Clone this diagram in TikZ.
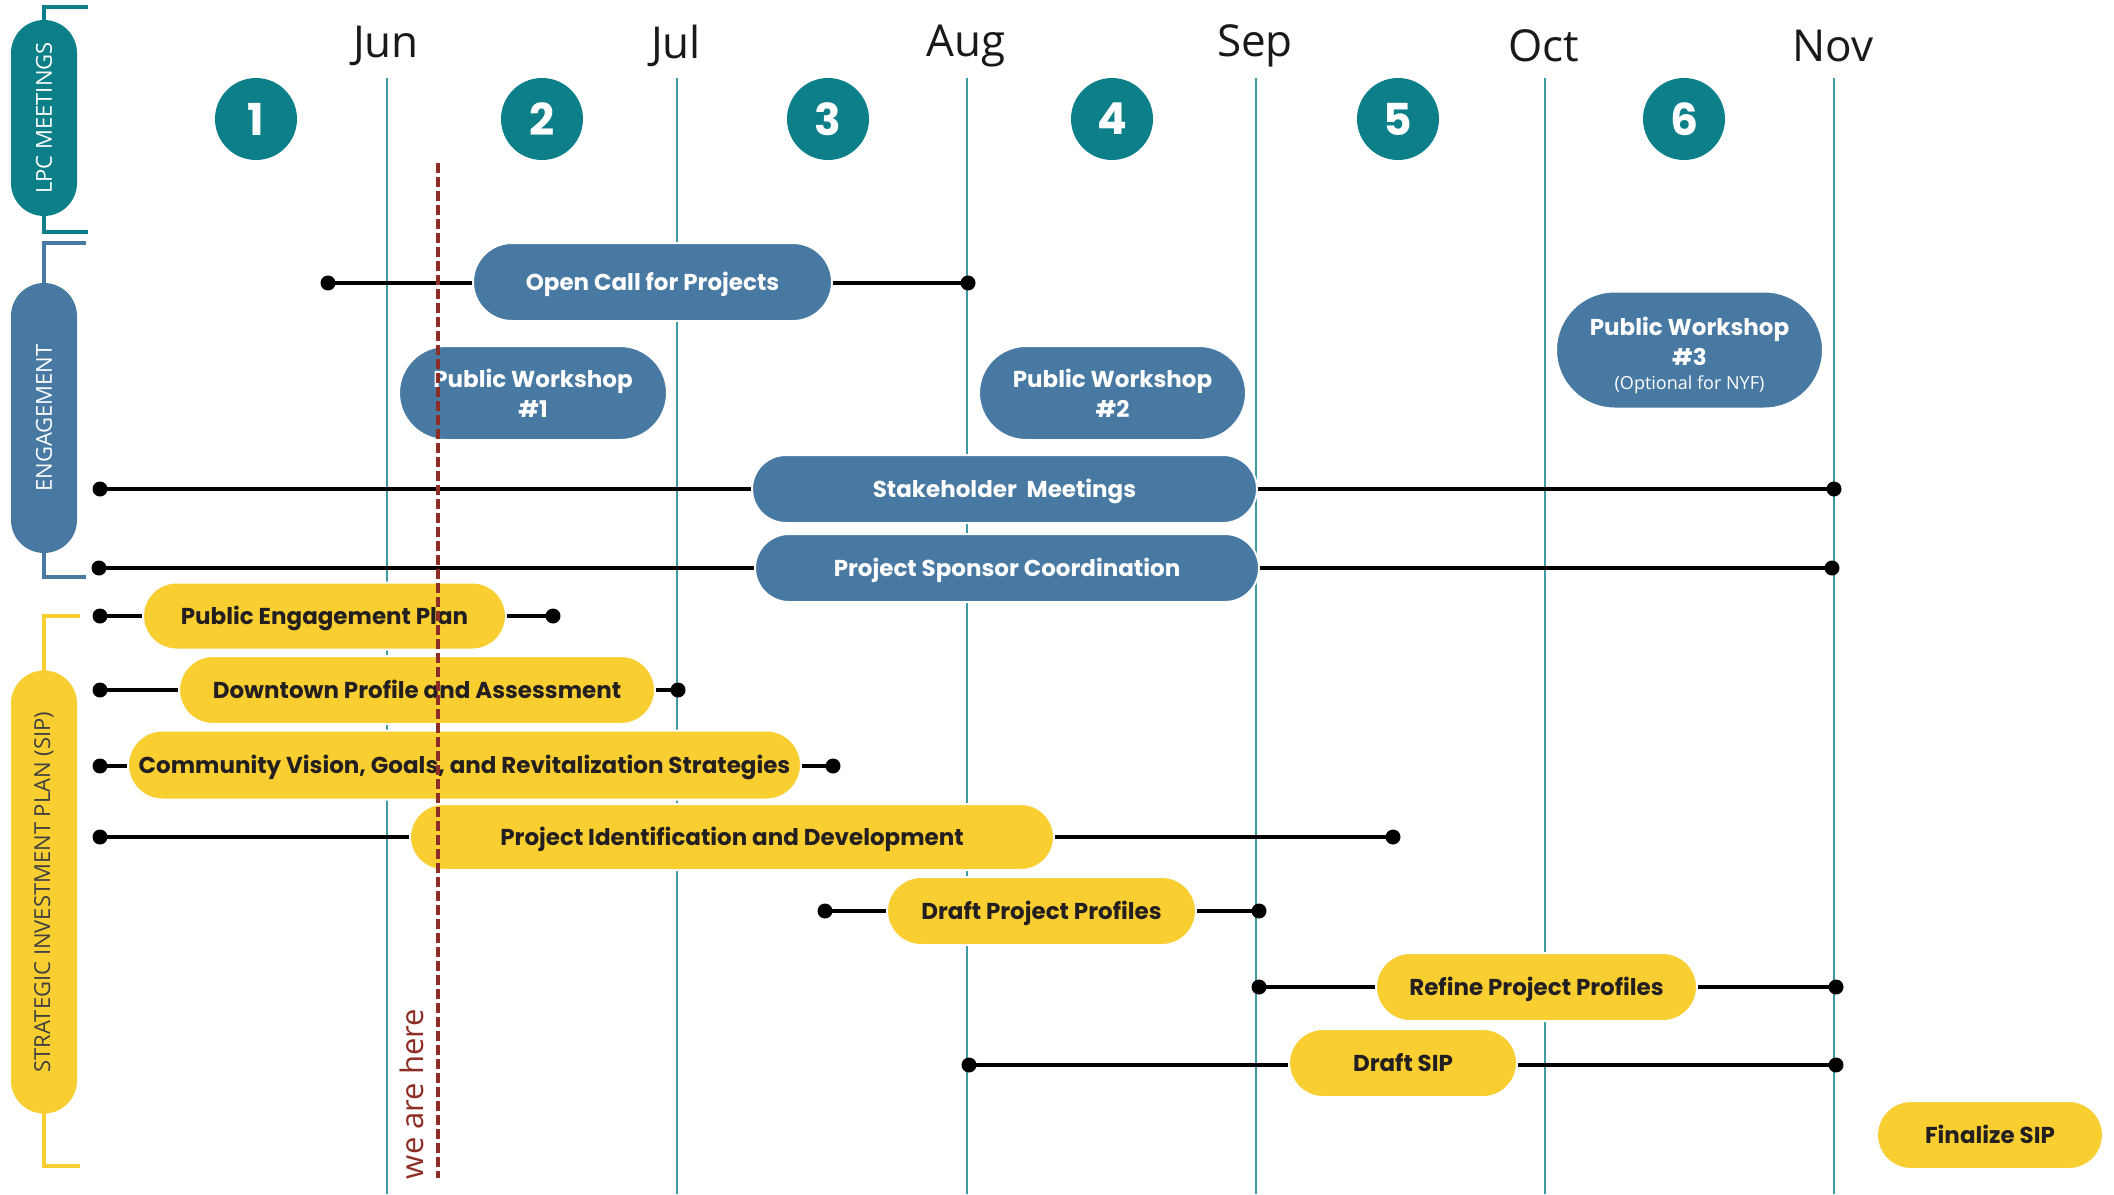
\documentclass[tikz,border=0pt]{standalone}
\usepackage{fontspec}
\setmainfont{Lato}
\newfontfamily\monthfont{Open Sans}
\newfontfamily\numfont{Poppins}
\usetikzlibrary{shapes.misc}

\definecolor{lpcteal}{HTML}{0C7F88}
\definecolor{engblue}{HTML}{4879A3}
\definecolor{sipyellow}{HTML}{F9CE30}
\definecolor{gridteal}{HTML}{3E9AA3}
\definecolor{herered}{HTML}{8E2D25}
\definecolor{inkdark}{HTML}{231F20}

\pgfdeclarelayer{paper}
\pgfdeclarelayer{grid}
\pgfdeclarelayer{links}
\pgfdeclarelayer{marker}
\pgfsetlayers{paper,grid,links,main,marker}

\tikzset{
  pill/.style={rounded rectangle, inner sep=0pt, draw=white, line width=2pt,
    font=\numfont\fontsize{23}{30}\selectfont\bfseries, align=center},
  oneline/.style={text height=16pt, text depth=0pt},
  bluepill/.style={pill, fill=engblue, text=white},
  yellowpill/.style={pill, oneline, fill=sipyellow, text=inkdark},
  conn/.style={line width=4pt, black},
  enddot/.style={circle, fill=black, inner sep=0pt, minimum size=15pt},
  monthlab/.style={font=\monthfont\fontsize{44}{44}\selectfont, text=black!90},
  monthline/.style={gridteal, line width=1.6pt},
  meeting/.style={circle, fill=lpcteal, minimum size=82pt, inner sep=0pt, text=white,
    font=\numfont\bfseries\fontsize{44}{44}\selectfont},
  grouppill/.style={rounded rectangle, rotate=90, inner sep=0pt,
    minimum height=66pt, font=\monthfont\fontsize{22}{22}\selectfont},
  bracket/.style={line width=4.5pt},
}

\begin{document}
\begin{tikzpicture}[x=1pt,y=-1pt]
\useasboundingbox (0,0) rectangle (2114,1194);
\begin{pgfonlayer}{paper}
  \fill[white] (0,0) rectangle (2114,1194);
\end{pgfonlayer}

% month columns
\foreach \nm/\lab/\xx in {jun/Jun/387, jul/Jul/677, aug/Aug/967, sep/Sep/1256, oct/Oct/1545, nov/Nov/1834}{
  \node[monthlab] (\nm) at (\xx-1,46) {\lab};
  \begin{pgfonlayer}{grid}
    \draw[monthline] (\xx,78) -- (\xx,1194);
  \end{pgfonlayer}
}

% LPC meeting numbers
\foreach \k/\xx in {1/256, 2/542, 3/828, 4/1112, 5/1398, 6/1684}{
  \node[meeting] (m\k) at (\xx,119) {\k};
}

% group labels with brackets
\node[grouppill, fill=lpcteal, text=white, minimum width=196pt] (lpc) at (44,118) {LPC MEETINGS};
\draw[bracket, lpcteal] (88,7) -- (44,7) -- (44,22);
\draw[bracket, lpcteal] (44,214) -- (44,232) -- (88,232);

\node[grouppill, fill=engblue, text=white, minimum width=270pt] (eng) at (44,418) {ENGAGEMENT};
\draw[bracket, engblue] (86,243) -- (44,243) -- (44,285);
\draw[bracket, engblue] (44,551) -- (44,577) -- (86,577);

\node[grouppill, fill=sipyellow, text=black!75, minimum width=443pt] (sip) at (44,892) {STRATEGIC INVESTMENT PLAN (SIP)};
\draw[bracket, sipyellow] (80,616) -- (44,616) -- (44,673);
\draw[bracket, sipyellow] (44,1112) -- (44,1166) -- (80,1166);

% engagement activities
\node[bluepill, oneline, minimum width=359pt, minimum height=78pt] (oc) at (652.5,282) {Open Call for Projects};
\node[enddot] (oc-a) at (328,283) {};
\node[enddot] (oc-b) at (968,283) {};

\node[bluepill, minimum width=268pt, minimum height=94pt] (pw1) at (533,393) {Public Workshop\\\#1};
\node[bluepill, minimum width=267pt, minimum height=94pt] (pw2) at (1112.5,393) {Public Workshop\\\#2};
\node[bluepill, minimum width=267pt, minimum height=117pt] (pw3) at (1689.5,350)
  {\rule{0pt}{30pt}Public Workshop\\\#3\\[-6pt]{\monthfont\mdseries\fontsize{18}{22}\selectfont (Optional for NYF)}};

\node[bluepill, oneline, minimum width=505pt, minimum height=68pt] (stk) at (1004.5,489) {Stakeholder\ \ Meetings};
\node[enddot] (stk-a) at (100,489) {};
\node[enddot] (stk-b) at (1834,489) {};

\node[bluepill, oneline, minimum width=504pt, minimum height=68pt] (psc) at (1007,568) {Project Sponsor Coordination};
\node[enddot] (psc-a) at (99,568) {};
\node[enddot] (psc-b) at (1832,568) {};

% strategic investment plan tasks
\node[yellowpill, minimum width=363pt, minimum height=67pt] (pep) at (324.5,616) {Public Engagement Plan};
\node[enddot] (pep-a) at (100,616) {};
\node[enddot] (pep-b) at (553,616) {};

\node[yellowpill, minimum width=476pt, minimum height=68pt] (dpa) at (417,690) {Downtown Profile and Assessment};
\node[enddot] (dpa-a) at (100,690) {};
\node[enddot] (dpa-b) at (678,690) {};

\node[yellowpill, minimum width=673pt, minimum height=69pt] (cvg) at (464.5,765) {Community Vision, Goals, and Revitalization Strategies};
\node[enddot] (cvg-a) at (100,766) {};
\node[enddot] (cvg-b) at (833,766) {};

\node[yellowpill, minimum width=644pt, minimum height=66pt] (pid) at (732,837) {Project Identification and Development};
\node[enddot] (pid-a) at (100,837) {};
\node[enddot] (pid-b) at (1393,837) {};

\node[yellowpill, minimum width=309pt, minimum height=68pt] (dpp) at (1041.5,911) {Draft Project Profiles};
\node[enddot] (dpp-a) at (825,911) {};
\node[enddot] (dpp-b) at (1259,911) {};

\node[yellowpill, minimum width=321pt, minimum height=68pt] (rpp) at (1536.5,987) {Refine Project Profiles};
\node[enddot] (rpp-a) at (1259,987) {};
\node[enddot] (rpp-b) at (1836,987) {};

\node[yellowpill, minimum width=228pt, minimum height=68pt] (dsip) at (1403,1063) {Draft SIP};
\node[enddot] (dsip-a) at (969,1065) {};
\node[enddot] (dsip-b) at (1836,1065) {};

\node[yellowpill, minimum width=226pt, minimum height=68pt] (fsip) at (1990,1135) {Finalize SIP};

% duration lines behind the activity pills
\begin{pgfonlayer}{links}
  \foreach \t in {oc, stk, psc, pep, dpa, cvg, pid, dpp, rpp, dsip}{
    \draw[conn] (\t-a.center) -- (\t-a.center -| \t.west);
    \draw[conn] (\t-b.center -| \t.east) -- (\t-b.center);
  }
\end{pgfonlayer}

% current date marker
\begin{pgfonlayer}{marker}
  \coordinate (now-top) at (438,163);
  \coordinate (now-bot) at (438,1178);
  \draw[herered, line width=4pt, dash pattern=on 10pt off 4pt] (now-top) -- (now-bot);
\end{pgfonlayer}
\node[rotate=90, text=herered, font=\monthfont\fontsize{31}{31}\selectfont] (here) at (412,1094) {we are here};
\end{tikzpicture}
\end{document}
